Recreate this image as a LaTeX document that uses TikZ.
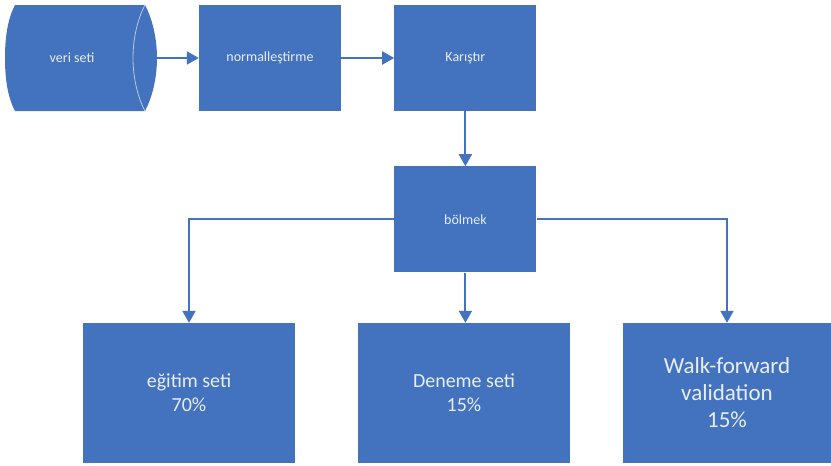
\documentclass[tikz,border=0pt]{standalone}
\usepackage{fontspec}
\setmainfont{Carlito}
\usepackage{xcolor}
\usetikzlibrary{arrows.meta,positioning,calc}

\definecolor{boxblue}{RGB}{67,114,190}
\definecolor{boxtext}{RGB}{232,238,247}

\begin{document}
\begin{tikzpicture}[
        x=1pt, y=-1pt,
        node distance=52pt,
        block/.style={rectangle, fill=boxblue, text=boxtext, minimum width=142pt, minimum height=106pt, inner sep=0pt, font=\fontsize{14}{17}\selectfont},
        bigblock/.style={rectangle, fill=boxblue, text=boxtext, minimum width=212pt, minimum height=140pt, inner sep=0pt, align=center, font=\fontsize{20}{24}\selectfont},
        line/.style={draw=boxblue, line width=2pt, -{Triangle[length=12pt,width=13pt]}}
    ]
    \useasboundingbox (0,0) rectangle (831,466);

    % Data source (stored data drum)
    \node [minimum width=152pt, minimum height=106pt, inner sep=0pt] (veri) at (81,58) {};
    \fill [boxblue] (15,5) -- (145,5) .. controls (153,20) and (157,40) .. (157,58)
        .. controls (157,76) and (153,96) .. (145,111) -- (15,111)
        .. controls (7,96) and (5,76) .. (5,58) .. controls (5,40) and (7,20) .. (15,5) -- cycle;
    \draw [boxtext!70!boxblue, line width=0.8pt] (145,5) .. controls (137,20) and (133,40) .. (133,58)
        .. controls (133,76) and (137,96) .. (145,111);
    \node [text=boxtext, font=\fontsize{14}{17}\selectfont] at (72,58) {veri seti};

    % Preprocessing row
    \node [block] (norm) at (270,58) {normalleştirme};
    \node [block, right=53pt of norm] (karistir) {Karıştır};

    % Split
    \node [block, below=55pt of karistir] (bolmek) {bölmek};

    % Output sets
    \node [bigblock] (egitim) at (189,393) {eğitim seti\\70\%};
    \node [bigblock] (deneme) at (464,393) {Deneme seti\\15\%};
    \node [bigblock, minimum width=208pt, font=\fontsize{23}{27}\selectfont] (walk) at (727,393) {Walk-forward\\validation\\15\%};

    % Connections
    \path [line] (veri.east) -- (norm);
    \path [line] (norm) -- (karistir);
    \path [line] (karistir) -- (bolmek);
    \path [line] (bolmek.west) -| (egitim.north);
    \path [line] (bolmek.south) -- (bolmek.south |- deneme.north);
    \path [line] (bolmek.east) -| (walk.north);

\end{tikzpicture}
\end{document}
